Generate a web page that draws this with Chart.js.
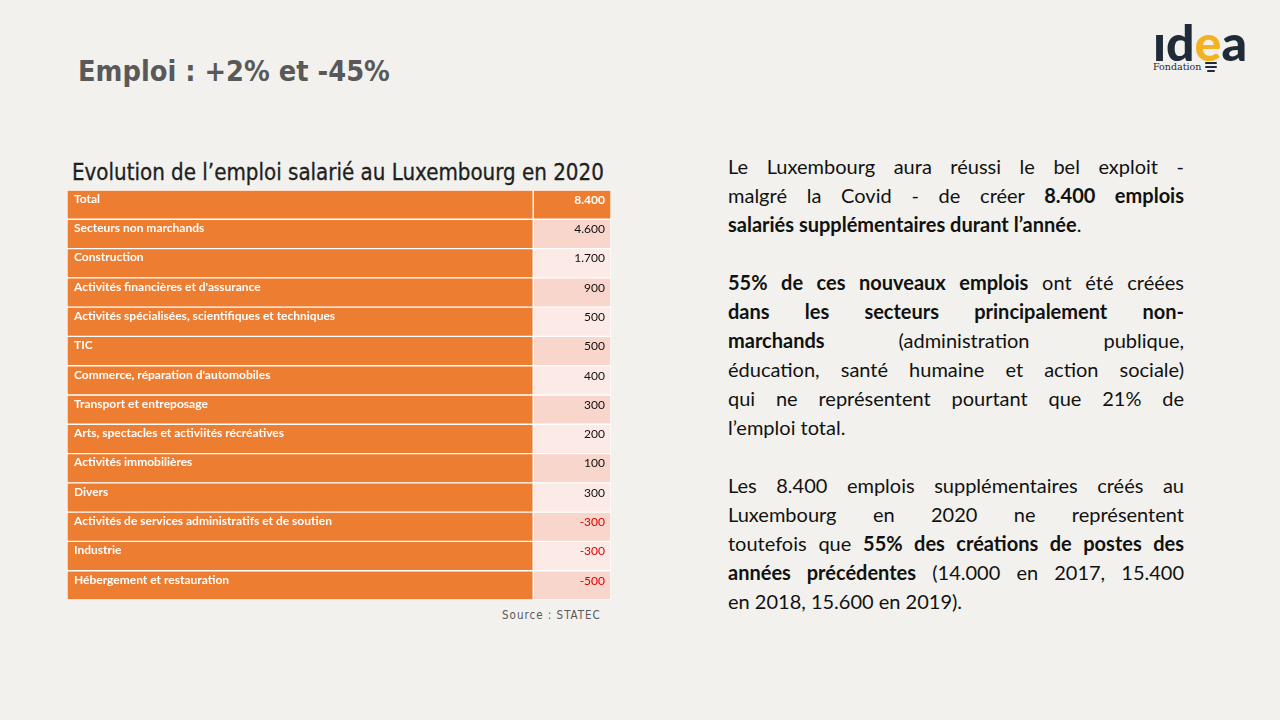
<!DOCTYPE html>
<html lang="fr">
<head>
<meta charset="utf-8">
<script src="https://cdn.jsdelivr.net/npm/chart.js@4"></script>
<style>
  html, body { margin: 0; padding: 0; }
  body { width: 1280px; height: 720px; background: #f2f1ed; position: relative; overflow: hidden; font-family: Lato, "Noto Sans", sans-serif; }
  .abs { position: absolute; white-space: nowrap; }
  #heading { left: 78px; top: 51px; font-family: "DejaVu Sans Condensed", "DejaVu Sans", sans-serif; font-weight: bold; color: #595959; line-height: 40px; }
  #tableTitle { left: 72px; top: 159px; font-family: "DejaVu Sans Condensed", "DejaVu Sans", sans-serif; color: #1f1f1f; line-height: 26px; -webkit-text-stroke: 0.3px #1f1f1f; }
  #source { left: 502px; top: 608px; font-family: "DejaVu Sans Condensed", "DejaVu Sans", sans-serif; font-size: 11.5px; color: #595959; letter-spacing: 1px; }
  #chartBox { position: absolute; left: 67px; top: 190px; width: 544px; height: 410px; }
  #text { position: absolute; left: 728px; top: 152px; width: 456px; font-size: 20px; line-height: 29px; color: #111; }
  #text .l { text-align: justify; text-align-last: justify; white-space: nowrap; }
  #text .last { text-align: left; text-align-last: left; }
  #text .gap { height: 29px; }
  #logo { left: 1150px; top: 14px; width: 110px; height: 62px; }
  #logo .word { position: absolute; left: 3px; top: 0px; font-family: Lato, sans-serif; font-weight: 900; line-height: 56px; color: #1f2b38; }
  #logo .word span { color: #f4b223; }
  #logo .fond { position: absolute; left: 3px; top: 47px; font-family: "DejaVu Serif", "Liberation Serif", serif; font-size: 9.5px; color: #1f2b38; }
  #logo .bulb { position: absolute; height: 2px; background: #1f2b38; border-radius: 1px; }
</style>
</head>
<body>
<div id="heading" class="abs">Emploi : +2% et -45%</div>

<div id="logo" class="abs">
  <div class="word" id="logoWord">ıd<span>e</span>a</div>
  <div class="fond">Fondation</div>
  <div class="bulb" style="top:48px;left:55px;width:12px;"></div>
  <div class="bulb" style="top:52px;left:55px;width:12px;"></div>
  <div class="bulb" style="top:56px;left:57px;width:8px;"></div>
</div>

<div id="tableTitle" class="abs">Evolution de l’emploi salarié au Luxembourg en 2020</div>
<div id="chartBox"><canvas id="tableChart"></canvas></div>
<div id="source" class="abs">Source : STATEC</div>

<div id="text">
  <div class="l">Le Luxembourg aura réussi le bel exploit -</div>
  <div class="l">malgré la Covid - de créer <b>8.400 emplois</b></div>
  <div class="l last"><b>salariés supplémentaires durant l’année</b>.</div>
  <div class="gap"></div>
  <div class="l"><b>55% de ces nouveaux emplois</b> ont été créées</div>
  <div class="l"><b>dans les secteurs principalement non-</b></div>
  <div class="l"><b>marchands</b> (administration publique,</div>
  <div class="l">éducation, santé humaine et action sociale)</div>
  <div class="l">qui ne représentent pourtant que 21% de</div>
  <div class="l last">l’emploi total.</div>
  <div class="gap"></div>
  <div class="l">Les 8.400 emplois supplémentaires créés au</div>
  <div class="l">Luxembourg en 2020 ne représentent</div>
  <div class="l">toutefois que <b>55% des créations de postes des</b></div>
  <div class="l"><b>années précédentes</b> (14.000 en 2017, 15.400</div>
  <div class="l last">en 2018, 15.600 en 2019).</div>
</div>

<script>
// table rows (secteurs) and job creation in 2020
const sectors = [
  'Total',
  'Secteurs non marchands',
  'Construction',
  "Activités financières et d'assurance",
  'Activités spécialisées, scientifiques et techniques',
  'TIC',
  "Commerce, réparation d'automobiles",
  'Transport et entreposage',
  'Arts, spectacles et activiités récréatives',
  'Activités immobilières',
  'Divers',
  'Activités de services administratifs et de soutien',
  'Industrie',
  'Hébergement et restauration'
];
const jobs = [8400, 4600, 1700, 900, 500, 500, 400, 300, 200, 100, 300, -300, -300, -500];

const ORANGE = '#ed7d31';
const PINK_DARK = '#f8d6cc';
const PINK_LIGHT = '#fbeae5';
const SPLIT = 85.7; // label column / value column boundary on the x scale

function fmt(v) {
  const s = Math.abs(v).toString().replace(/\B(?=(\d{3})+(?!\d))/g, '.');
  return (v < 0 ? '-' : '') + s;
}

// fit a text block to the width it has in the slide
function fitWidth(id, width, family, weight) {
  const c = document.createElement('canvas').getContext('2d');
  const el = document.getElementById(id);
  c.font = `${weight} 100px ${family}`;
  const w = c.measureText(el.textContent).width;
  el.style.fontSize = (100 * width / w).toFixed(2) + 'px';
}

const cellText = {
  id: 'cellText',
  afterDatasetsDraw(chart) {
    const ctx = chart.ctx;
    const labelBars = chart.getDatasetMeta(0).data;
    const valueBars = chart.getDatasetMeta(1).data;
    ctx.save();
    ctx.textBaseline = 'top';
    labelBars.forEach((bar, i) => {
      const top = bar.y - bar.height / 2;
      ctx.font = 'bold 12px Lato, sans-serif';
      ctx.fillStyle = '#ffffff';
      ctx.textAlign = 'left';
      ctx.fillText(sectors[i], bar.base + 7, top + 3);

      const vb = valueBars[i];
      ctx.textAlign = 'right';
      if (i === 0) {
        ctx.font = 'bold 12px Lato, sans-serif';
        ctx.fillStyle = '#ffffff';
      } else {
        ctx.font = '12px Lato, sans-serif';
        ctx.fillStyle = jobs[i] < 0 ? '#e00000' : '#111111';
      }
      ctx.fillText(fmt(jobs[i]), vb.x - 6, top + 4);
    });
    ctx.restore();
  }
};

new Chart(document.getElementById('tableChart'), {
  type: 'bar',
  data: {
    labels: sectors,
    datasets: [
      {
        label: 'Secteur',
        data: sectors.map(() => [0, SPLIT]),
        backgroundColor: ORANGE
      },
      {
        label: 'Emplois',
        data: jobs.map(() => [SPLIT, 100]),
        backgroundColor: ctx => ctx.dataIndex === 0 ? ORANGE : (ctx.dataIndex % 2 ? PINK_DARK : PINK_LIGHT)
      }
    ]
  },
  options: {
    indexAxis: 'y',
    responsive: true,
    maintainAspectRatio: false,
    animation: false,
    datasets: {
      bar: {
        grouped: false,
        barPercentage: 1,
        categoryPercentage: 1,
        borderColor: '#ffffff',
        borderWidth: 1,
        borderSkipped: false
      }
    },
    layout: { padding: 0 },
    scales: {
      x: { type: 'linear', min: 0, max: 100, display: false },
      y: { type: 'category', display: false }
    },
    plugins: {
      legend: { display: false },
      tooltip: { enabled: false }
    }
  },
  plugins: [cellText]
});

fitWidth('heading', 312, '"DejaVu Sans Condensed", "DejaVu Sans", sans-serif', 'bold');
fitWidth('tableTitle', 532, '"DejaVu Sans Condensed", "DejaVu Sans", sans-serif', 'normal');
fitWidth('logoWord', 94, 'Lato, sans-serif', '900');
</script>
</body>
</html>
